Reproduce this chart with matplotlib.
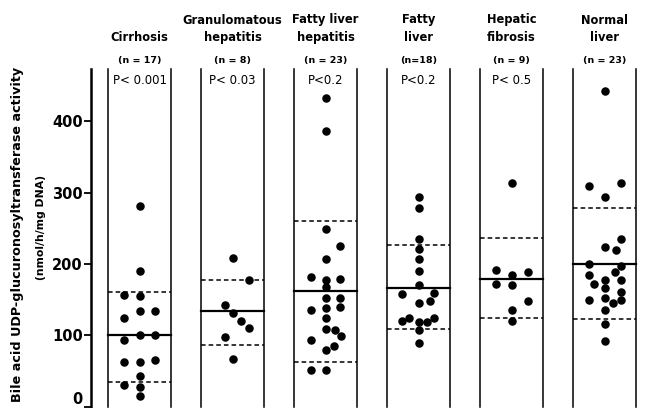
import matplotlib.pyplot as plt
from matplotlib.transforms import blended_transform_factory

plt.rcParams['font.family'] = ['DejaVu Sans']

groups = ['Cirrhosis', 'Granulomatous\nhepatitis', 'Fatty liver\nhepatitis',
          'Fatty\nliver', 'Hepatic\nfibrosis', 'Normal\nliver']
n_labels = ['(n = 17)', '(n = 8)', '(n = 23)', '(n=18)', '(n = 9)', '(n = 23)']
p_labels = ['P< 0.001', 'P< 0.03', 'P<0.2', 'P<0.2', 'P< 0.5', '']

# individual values with their column slot inside the panel (-1 left, 0 middle, 1 right)
cirrhosis = [281, 190, 157, 155, 125, 134, 134, 100, 100, 94, 62, 62, 66, 43, 30, 28, 15]
cirrhosis_col = [0, 0, -1, 0, -1, 0, 1, 0, 1, -1, -1, 0, 1, 0, -1, 0, 0]
granulomatous = [209, 178, 143, 131, 120, 110, 98, 67]
granulomatous_col = [0, 1, -0.5, 0, 0.5, 1, -0.5, 0]
fatty_hepatitis = [433, 386, 249, 226, 207, 182, 178, 179, 168, 153, 152, 135,
                   139, 140, 125, 109, 107, 94, 99, 80, 85, 52, 52]
fatty_hepatitis_col = [0, 0, 0, 0.9, 0, -0.9, 0, 0.9, 0, 0, 0.9, -0.9,
                       0, 0.9, 0, 0, 0.6, -0.9, 0.95, 0, 0.55, -0.9, 0]
fatty_liver = [294, 278, 235, 221, 207, 190, 171, 158, 159, 146, 148, 120,
               125, 119, 119, 125, 107, 89]
fatty_liver_col = [0, 0, 0, 0, 0, 0, 0, -1.05, 0.97, 0, 0.7, -1.05,
                   -0.6, 0, 0.55, 0.95, 0, 0]
fibrosis = [314, 192, 185, 189, 172, 170, 148, 136, 120]
fibrosis_col = [0, -1, 0, 1.05, -1, 0, 1, 0, 0]
normal = [442, 309, 314, 294, 235, 224, 220, 200, 197, 189, 184, 172, 178, 178,
          167, 161, 149, 153, 146, 150, 136, 116, 92]
normal_col = [0, -0.96, 1.06, 0, 1.06, 0, 0.69, -0.96, 1.06, 0.64, -1, -0.67, 0, 1.06,
              0, 1.06, -1, 0, 0.56, 1.06, 0, 0, 0]

values = [cirrhosis, granulomatous, fatty_hepatitis, fatty_liver, fibrosis, normal]
columns = [cirrhosis_col, granulomatous_col, fatty_hepatitis_col, fatty_liver_col,
           fibrosis_col, normal_col]
means = [100, 134, 162, 167, 179, 200]
upper = [161, 178, 260, 227, 237, 278]
lower = [35, 87, 62, 109, 124, 123]

W, H = 650, 408
fig = plt.figure(figsize=(6.5, 4.08), dpi=100)
ax = fig.add_axes([91 / W, 1.3 / H, (W - 91) / W, (406.7 - 69) / H])

ymax = 473.5
ax.set_ylim(0, ymax)
ax.set_xlim(-0.5215, 5.489)
half = 0.336
col_step = 0.172

for i in range(len(groups)):
    for xe in (i - half, i + half):
        ax.plot([xe, xe], [0, ymax], color='black', lw=1.1, clip_on=False)
    ax.plot([i - half, i + half], [means[i], means[i]], color='black', lw=1.6)
    for v in (upper[i], lower[i]):
        ax.plot([i - half, i + half], [v, v], color='black', lw=1.1, ls=(0, (3, 2)))
    xs = [i + c * col_step for c in columns[i]]
    ax.scatter(xs, values[i], s=26, color='black', zorder=3, clip_on=False)

trans = blended_transform_factory(ax.transData, fig.transFigure)
for i, g in enumerate(groups):
    ax.text(i, 1 - 41 / H, g, transform=trans, ha='center', va='baseline',
            fontsize=8.3, fontweight='bold', linespacing=1.45)
    ax.text(i, 1 - 61 / H, n_labels[i], transform=trans, ha='center', va='center',
            fontsize=6.8, fontweight='bold')
    ax.text(i, 1 - 80 / H, p_labels[i], transform=trans, ha='center', va='center',
            fontsize=8.5)

ax.spines['top'].set_visible(False)
ax.spines['right'].set_visible(False)
ax.spines['bottom'].set_visible(False)
ax.spines['left'].set_linewidth(1.8)
ax.set_xticks([])
ax.set_yticks([0, 100, 200, 300, 400])
ax.tick_params(axis='y', length=5, width=1.3, labelsize=10.5, pad=1)
for lab in ax.get_yticklabels():
    lab.set_fontweight('bold')
# keep the "0" inside the picture: it sits right on the bottom edge
ax.get_yticklabels()[0].set_verticalalignment('bottom')

fig.text(18 / W, 1 - 234 / H, 'Bile acid UDP-glucuronosyltransferase activity',
         rotation=90, ha='center', va='center', fontsize=9.2, fontweight='bold')
fig.text(41 / W, 1 - 227 / H, '(nmol/h/mg DNA)',
         rotation=90, ha='center', va='center', fontsize=7.8, fontweight='bold')

fig.savefig('out.png', dpi=100)
